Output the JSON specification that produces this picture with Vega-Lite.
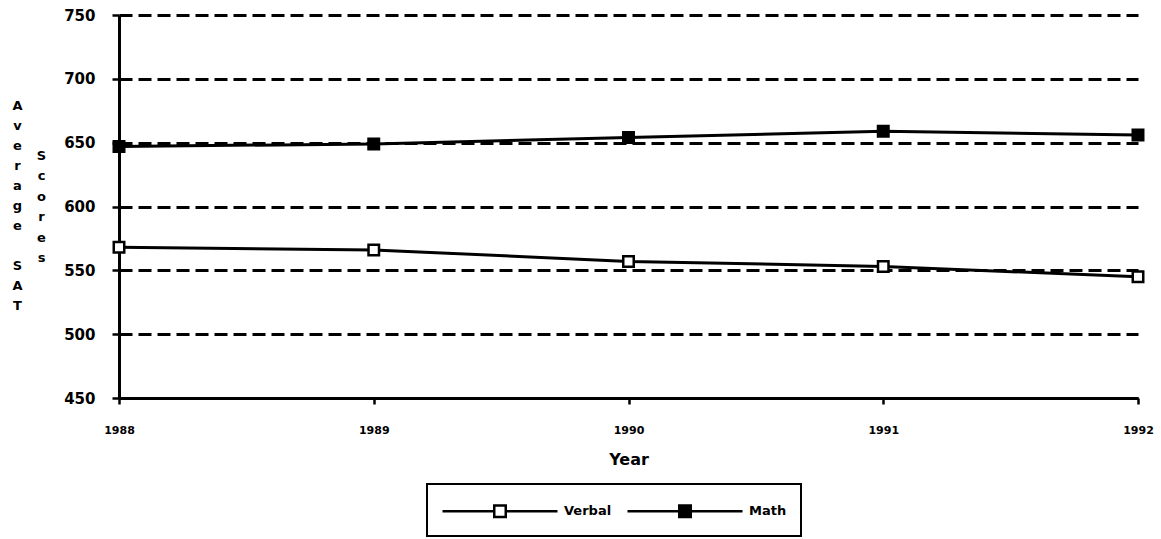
{
  "$schema": "https://vega.github.io/schema/vega-lite/v6.json",
  "autosize": "none",
  "width": 1019,
  "height": 383,
  "padding": {"left": 119, "top": 15, "right": 23, "bottom": 141},
  "background": "white",
  "config": {
    "view": {"stroke": null},
    "font": "DejaVu Sans",
    "axis": {
      "domainColor": "black",
      "domainWidth": 3,
      "tickColor": "black",
      "tickWidth": 2.5,
      "labelColor": "black",
      "titleColor": "black",
      "labelFontWeight": "bold",
      "titleFontWeight": "bold"
    },
    "legend": {
      "labelFont": "DejaVu Sans",
      "labelFontWeight": "bold",
      "labelFontSize": 13,
      "labelColor": "black"
    }
  },
  "data": {
    "values": [
      {"year": "1988", "series": "Verbal", "score": 568},
      {"year": "1989", "series": "Verbal", "score": 566},
      {"year": "1990", "series": "Verbal", "score": 557},
      {"year": "1991", "series": "Verbal", "score": 553},
      {"year": "1992", "series": "Verbal", "score": 545},
      {"year": "1988", "series": "Math", "score": 647},
      {"year": "1989", "series": "Math", "score": 649},
      {"year": "1990", "series": "Math", "score": 654},
      {"year": "1991", "series": "Math", "score": 659},
      {"year": "1992", "series": "Math", "score": 656}
    ]
  },
  "encoding": {
    "x": {
      "field": "year",
      "type": "ordinal",
      "scale": {"type": "point", "padding": 0},
      "axis": {
        "title": "Year",
        "labelAngle": 0,
        "labelFontSize": 11,
        "labelPadding": 20,
        "tickSize": 6,
        "titleFontSize": 16,
        "titlePadding": 16,
        "grid": false
      }
    }
  },
  "layer": [
    {
      "mark": {"type": "line", "color": "black", "strokeWidth": 3},
      "encoding": {
        "detail": {"field": "series"},
        "y": {
          "field": "score",
          "type": "quantitative",
          "scale": {"domain": [450, 750], "nice": false, "zero": false},
          "axis": {
            "values": [450, 500, 550, 600, 650, 700, 750],
            "labelFontSize": 15,
            "labelPadding": 17,
            "tickSize": 7,
            "grid": true,
            "gridColor": "black",
            "gridWidth": 3,
            "gridDash": [13, 6],
            "gridOpacity": 1,
            "title": ["A", "v", "e", "r", "a", "g", "e", "\u200b", "S", "A", "T"],
            "titleAngle": 0,
            "titleFontSize": 13,
            "titleLineHeight": 20,
            "titleAlign": "center",
            "titleBaseline": "top",
            "titleX": -102,
            "titleY": 84
          }
        }
      }
    },
    {
      "mark": {"type": "square", "size": 110, "stroke": "black", "strokeWidth": 2.5, "opacity": 1},
      "encoding": {
        "y": {
          "field": "score",
          "type": "quantitative",
          "scale": {"domain": [450, 750], "nice": false, "zero": false},
          "axis": {
            "orient": "left",
            "labels": false,
            "ticks": false,
            "domain": false,
            "grid": false,
            "title": ["S", "c", "o", "r", "e", "s"],
            "titleAngle": 0,
            "titleFontSize": 13,
            "titleLineHeight": 20.5,
            "titleAlign": "center",
            "titleBaseline": "top",
            "titleX": -78,
            "titleY": 134
          }
        },
        "fill": {
          "field": "series",
          "type": "nominal",
          "scale": {"domain": ["Verbal", "Math"], "range": ["white", "black"]},
          "legend": {
            "title": null,
            "orient": "none",
            "legendX": 308,
            "legendY": 469,
            "direction": "horizontal",
            "symbolType": "M-1,0H3.5M4.5,0H9M3.5,-0.5H4.5V0.5H3.5Z",
            "symbolSize": 529,
            "symbolStrokeColor": "black",
            "symbolStrokeWidth": 2.5,
            "symbolOpacity": 1,
            "labelOffset": 97,
            "columnPadding": 10,
            "padding": 14,
            "strokeColor": "black",
            "encode": {
              "legend": {"update": {"strokeWidth": {"value": 2}}}
            }
          }
        }
      }
    }
  ],
  "resolve": {"axis": {"y": "independent"}}
}
